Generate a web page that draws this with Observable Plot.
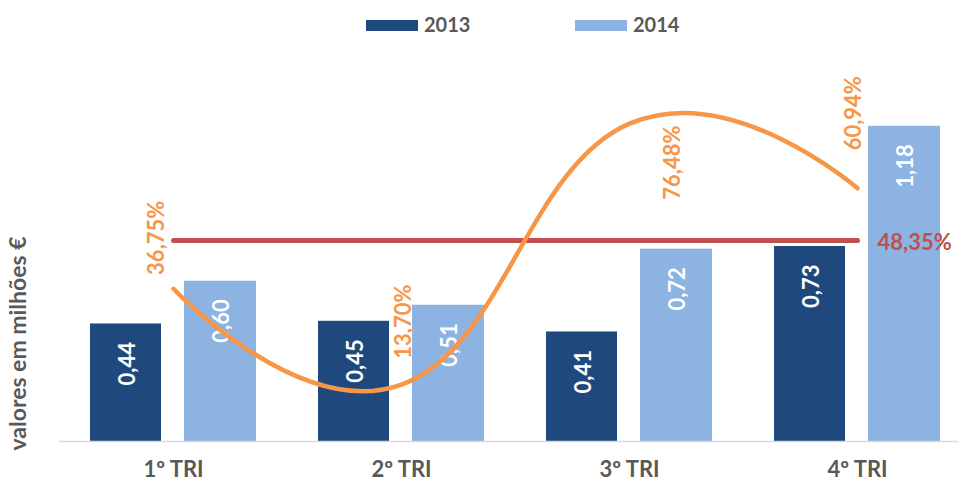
<!DOCTYPE html>
<html>
<head>
<meta charset="utf-8">
<script src="https://cdn.jsdelivr.net/npm/d3@7"></script>
<script src="https://cdn.jsdelivr.net/npm/@observablehq/plot@0.6"></script>
<style>
  html, body { margin: 0; padding: 0; background: #fff; }
  body { width: 958px; height: 490px; overflow: hidden; font-family: Lato, "Open Sans", sans-serif; }
  #legend { position: relative; height: 45px; width: 958px; }
  .sw { position: absolute; top: 20px; width: 52px; height: 11px; }
  .lt { position: absolute; top: 12px; font: bold 20px Lato, sans-serif; color: #595959; line-height: 24px; }
</style>
</head>
<body>
<div id="legend"></div>
<div id="chart"></div>
<script>
// ---- data ----
const quarters = ["1º TRI", "2º TRI", "3º TRI", "4º TRI"];
const years = ["2013", "2014"];
const values2013 = [0.44, 0.45, 0.41, 0.73];
const values2014 = [0.60, 0.51, 0.72, 1.18];
const growthPct = [36.75, 13.70, 76.48, 60.94];
const averagePct = 48.35;
const yLabel = "valores em milhões €";

// ---- colours ----
const colors = {"2013": "#1F497D", "2014": "#8DB3E2"};
const orange = "#F79646", red = "#C0504D", grey = "#595959";

// primary axis 0–1.4 (M€), secondary axis 0–90 (%)
const primaryMax = 1.4, secondaryMax = 90;
const pctToY = p => p * primaryMax / secondaryMax;

const fmt = v => d3.format(".2f")(v).replace(".", ",");
const fmtPct = v => fmt(v) + "%";

const rows2013 = quarters.map((q, i) => ({q, v: values2013[i]}));
const rows2014 = quarters.map((q, i) => ({q, v: values2014[i]}));
const growth = quarters.map((q, i) => ({q, p: growthPct[i], i}));

// legend
const legend = document.getElementById("legend");
[[years[0], 366, 424], [years[1], 575, 633]].forEach(([y, sx, tx]) => {
  const s = document.createElement("div");
  s.className = "sw"; s.style.left = sx + "px"; s.style.background = colors[y];
  legend.appendChild(s);
  const t = document.createElement("div");
  t.className = "lt"; t.style.left = tx + "px"; t.textContent = y;
  legend.appendChild(t);
});

const big = {fontWeight: "bold", fontSize: 22, fontFamily: "Lato, sans-serif"};
const pctLabel = (idx, dx, dy) => Plot.text(growth.filter(d => d.i === idx), {
  x: "q", y: d => pctToY(d.p), text: d => fmtPct(d.p), rotate: -90,
  dx, dy, fill: orange, ...big
});

const chart = Plot.plot({
  width: 958,
  height: 445,
  marginTop: 22,
  marginBottom: 49,
  marginLeft: 59,
  marginRight: 0,
  style: {background: "transparent", overflow: "visible"},
  x: {type: "band", domain: quarters, range: [59, 971], padding: 0, axis: null},
  y: {domain: [0, primaryMax], axis: null},
  marks: [
    Plot.barY(rows2013, {x: "q", y: "v", fill: colors["2013"], insetLeft: 31, insetRight: 126}),
    Plot.barY(rows2014, {x: "q", y: "v", fill: colors["2014"], insetLeft: 125, insetRight: 31}),
    Plot.ruleY([0], {stroke: "#D9D9D9", strokeWidth: 1.5}),
    Plot.text(rows2013, {x: "q", y: "v", text: d => fmt(d.v), rotate: -90, textAnchor: "end",
      dx: -46, dy: 18, fill: "white", ...big}),
    Plot.text(rows2014, {x: "q", y: "v", text: d => fmt(d.v), rotate: -90, textAnchor: "end",
      dx: 48, dy: 18, fill: "white", ...big}),
    Plot.line(quarters, {x: d => d, y: () => pctToY(averagePct), stroke: red, strokeWidth: 5, strokeLinecap: "round"}),
    Plot.line(growth, {x: "q", y: d => pctToY(d.p), stroke: orange, strokeWidth: 4.5, curve: "cardinal", tension: -0.35, strokeLinecap: "round"}),
    pctLabel(0, -17, -51),
    pctLabel(1, 2, -63),
    pctLabel(2, 43, 39),
    pctLabel(3, -4, -75),
    Plot.text([averagePct], {x: () => quarters[3], y: d => pctToY(d), text: d => fmtPct(d),
      textAnchor: "start", dx: 20, dy: 2, fill: red, ...big}),
    Plot.text(quarters, {x: d => d, frameAnchor: "bottom", dy: 35, text: d => d,
      fill: grey, fontWeight: "bold", fontSize: 22, fontFamily: "Lato, sans-serif"}),
    Plot.text([yLabel], {frameAnchor: "left", rotate: -90, textAnchor: "middle", dx: -41, dy: 89, text: d => d,
      fill: grey, fontWeight: "bold", fontSize: 23, fontFamily: "Lato, sans-serif"})
  ]
});
document.getElementById("chart").appendChild(chart);
</script>
</body>
</html>
